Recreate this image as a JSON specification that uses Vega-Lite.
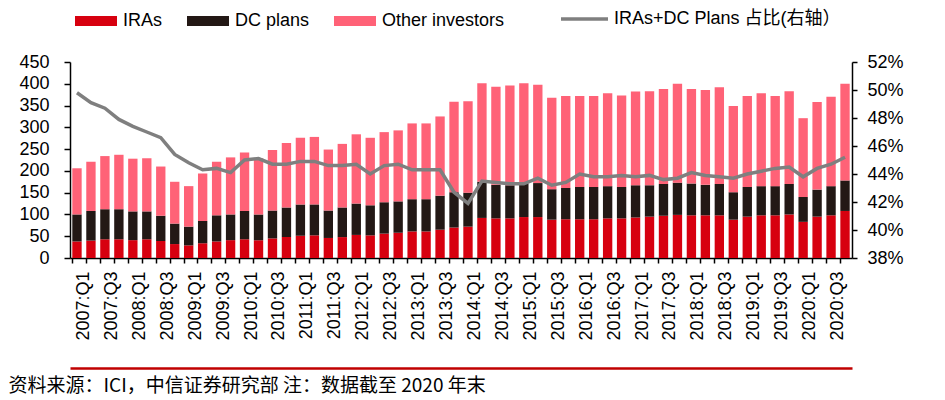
{
  "$schema": "https://vega.github.io/schema/vega-lite/v6.json",
  "width": 782,
  "height": 196,
  "autosize": "none",
  "padding": {"left": 70, "top": 62, "right": 93, "bottom": 142},
  "background": "white",
  "config": {
    "view": {"stroke": null},
    "font": "Liberation Sans",
    "axis": {"grid": false, "labelFont": "Liberation Sans", "labelColor": "black", "tickColor": "black", "domainColor": "black", "labelFontSize": 18, "domainWidth": 1.5, "tickWidth": 1.5}
  },
  "data": {
    "values": [
      {"q": "2007:Q1", "IRAs": 38, "DC plans": 62, "Other investors": 106, "share": 49.8},
      {"q": "2007:Q2", "IRAs": 40, "DC plans": 68, "Other investors": 113, "share": 49.1},
      {"q": "2007:Q3", "IRAs": 43, "DC plans": 69, "Other investors": 122, "share": 48.7},
      {"q": "2007:Q4", "IRAs": 43, "DC plans": 69, "Other investors": 125, "share": 47.9},
      {"q": "2008:Q1", "IRAs": 41, "DC plans": 66, "Other investors": 121, "share": 47.4},
      {"q": "2008:Q2", "IRAs": 43, "DC plans": 64, "Other investors": 122, "share": 47.0},
      {"q": "2008:Q3", "IRAs": 39, "DC plans": 58, "Other investors": 113, "share": 46.6},
      {"q": "2008:Q4", "IRAs": 32, "DC plans": 47, "Other investors": 96, "share": 45.4},
      {"q": "2009:Q1", "IRAs": 29, "DC plans": 43, "Other investors": 93, "share": 44.8},
      {"q": "2009:Q2", "IRAs": 34, "DC plans": 51, "Other investors": 109, "share": 44.3},
      {"q": "2009:Q3", "IRAs": 38, "DC plans": 60, "Other investors": 123, "share": 44.4},
      {"q": "2009:Q4", "IRAs": 41, "DC plans": 59, "Other investors": 131, "share": 44.1},
      {"q": "2010:Q1", "IRAs": 43, "DC plans": 65, "Other investors": 134, "share": 45.0},
      {"q": "2010:Q2", "IRAs": 41, "DC plans": 59, "Other investors": 129, "share": 45.1},
      {"q": "2010:Q3", "IRAs": 45, "DC plans": 64, "Other investors": 139, "share": 44.7},
      {"q": "2010:Q4", "IRAs": 48, "DC plans": 68, "Other investors": 148, "share": 44.7},
      {"q": "2011:Q1", "IRAs": 51, "DC plans": 72, "Other investors": 153, "share": 44.9},
      {"q": "2011:Q2", "IRAs": 52, "DC plans": 71, "Other investors": 155, "share": 44.9},
      {"q": "2011:Q3", "IRAs": 46, "DC plans": 63, "Other investors": 140, "share": 44.6},
      {"q": "2011:Q4", "IRAs": 48, "DC plans": 68, "Other investors": 146, "share": 44.6},
      {"q": "2012:Q1", "IRAs": 53, "DC plans": 72, "Other investors": 159, "share": 44.7},
      {"q": "2012:Q2", "IRAs": 52, "DC plans": 69, "Other investors": 155, "share": 44.0},
      {"q": "2012:Q3", "IRAs": 56, "DC plans": 72, "Other investors": 161, "share": 44.6},
      {"q": "2012:Q4", "IRAs": 58, "DC plans": 72, "Other investors": 163, "share": 44.7},
      {"q": "2013:Q1", "IRAs": 61, "DC plans": 74, "Other investors": 174, "share": 44.3},
      {"q": "2013:Q2", "IRAs": 61, "DC plans": 74, "Other investors": 174, "share": 44.3},
      {"q": "2013:Q3", "IRAs": 65, "DC plans": 78, "Other investors": 182, "share": 44.3},
      {"q": "2013:Q4", "IRAs": 70, "DC plans": 81, "Other investors": 208, "share": 42.7},
      {"q": "2014:Q1", "IRAs": 72, "DC plans": 78, "Other investors": 210, "share": 41.9},
      {"q": "2014:Q2", "IRAs": 92, "DC plans": 83, "Other investors": 226, "share": 43.5},
      {"q": "2014:Q3", "IRAs": 91, "DC plans": 77, "Other investors": 225, "share": 43.4},
      {"q": "2014:Q4", "IRAs": 91, "DC plans": 76, "Other investors": 229, "share": 43.3},
      {"q": "2015:Q1", "IRAs": 94, "DC plans": 77, "Other investors": 230, "share": 43.3},
      {"q": "2015:Q2", "IRAs": 94, "DC plans": 78, "Other investors": 226, "share": 43.7},
      {"q": "2015:Q3", "IRAs": 88, "DC plans": 70, "Other investors": 210, "share": 43.2},
      {"q": "2015:Q4", "IRAs": 89, "DC plans": 72, "Other investors": 211, "share": 43.4},
      {"q": "2016:Q1", "IRAs": 89, "DC plans": 74, "Other investors": 209, "share": 44.0},
      {"q": "2016:Q2", "IRAs": 89, "DC plans": 74, "Other investors": 209, "share": 43.8},
      {"q": "2016:Q3", "IRAs": 91, "DC plans": 74, "Other investors": 213, "share": 43.8},
      {"q": "2016:Q4", "IRAs": 91, "DC plans": 72, "Other investors": 210, "share": 43.9},
      {"q": "2017:Q1", "IRAs": 93, "DC plans": 74, "Other investors": 215, "share": 43.8},
      {"q": "2017:Q2", "IRAs": 95, "DC plans": 72, "Other investors": 216, "share": 43.9},
      {"q": "2017:Q3", "IRAs": 97, "DC plans": 73, "Other investors": 218, "share": 43.6},
      {"q": "2017:Q4", "IRAs": 99, "DC plans": 74, "Other investors": 227, "share": 43.7},
      {"q": "2018:Q1", "IRAs": 98, "DC plans": 73, "Other investors": 217, "share": 44.1},
      {"q": "2018:Q2", "IRAs": 98, "DC plans": 70, "Other investors": 218, "share": 43.9},
      {"q": "2018:Q3", "IRAs": 98, "DC plans": 72, "Other investors": 222, "share": 43.8},
      {"q": "2018:Q4", "IRAs": 88, "DC plans": 63, "Other investors": 198, "share": 43.7},
      {"q": "2019:Q1", "IRAs": 95, "DC plans": 68, "Other investors": 209, "share": 44.0},
      {"q": "2019:Q2", "IRAs": 98, "DC plans": 67, "Other investors": 213, "share": 44.2},
      {"q": "2019:Q3", "IRAs": 98, "DC plans": 67, "Other investors": 207, "share": 44.4},
      {"q": "2019:Q4", "IRAs": 100, "DC plans": 70, "Other investors": 213, "share": 44.5},
      {"q": "2020:Q1", "IRAs": 83, "DC plans": 57, "Other investors": 181, "share": 43.8},
      {"q": "2020:Q2", "IRAs": 95, "DC plans": 62, "Other investors": 201, "share": 44.4},
      {"q": "2020:Q3", "IRAs": 98, "DC plans": 67, "Other investors": 205, "share": 44.7},
      {"q": "2020:Q4", "IRAs": 108, "DC plans": 70, "Other investors": 222, "share": 45.2}
    ]
  },
  "layer": [
    {
      "transform": [
        {"fold": ["IRAs", "DC plans", "Other investors"], "as": ["type", "value"]},
        {"lookup": "type", "from": {"data": {"values": [{"type": "IRAs", "k": 1}, {"type": "DC plans", "k": 2}, {"type": "Other investors", "k": 3}]}, "key": "type", "fields": ["k"]}}
      ],
      "mark": {"type": "bar"},
      "encoding": {
        "x": {
          "field": "q", "type": "ordinal", "sort": null,
          "scale": {"paddingInner": 0.33, "paddingOuter": 0.165},
          "axis": {
            "title": null, "labelAngle": -90, "labelAlign": "right", "labelBaseline": "middle",
            "labelPadding": 8, "tickSize": 5, "labelOverlap": false, "bandPosition": 0, "labelOffset": 7,
            "labelExpr": "(indexof(datum.value,'Q1')>=0 || indexof(datum.value,'Q3')>=0) ? datum.value : ''"
          }
        },
        "y": {
          "field": "value", "type": "quantitative", "stack": "zero",
          "scale": {"domain": [0, 450], "nice": false},
          "axis": {"title": null, "values": [0, 50, 100, 150, 200, 250, 300, 350, 400, 450], "tickSize": 6, "labelPadding": 15}
        },
        "order": {"field": "k", "type": "quantitative", "sort": "ascending"},
        "color": {
          "field": "type", "type": "nominal",
          "scale": {"domain": ["IRAs", "DC plans", "Other investors"], "range": ["#D7000F", "#231815", "#FF6277"]},
          "legend": {
            "orient": "none", "legendX": 0, "legendY": -67, "direction": "horizontal", "title": null,
            "symbolType": "stroke", "symbolSize": 1764, "symbolStrokeWidth": 10,
            "labelFontSize": 18, "labelOffset": 1, "columnPadding": 4,
            "labelColor": "black", "labelFont": "Liberation Sans",
            "encode": {"symbols": {"update": {"stroke": {"scale": "color", "field": "value"}, "strokeCap": {"value": "butt"}}}}
          }
        }
      }
    },
    {
      "mark": {"type": "line", "strokeWidth": 3.5},
      "encoding": {
        "x": {
          "field": "q", "type": "ordinal", "sort": null,
          "scale": {"paddingInner": 0.33, "paddingOuter": 0.165},
          "axis": {
            "orient": "bottom", "offset": 110, "labels": false, "ticks": false,
            "domainColor": "#C00000", "domainWidth": 2.5,
            "title": "资料来源：ICI，中信证券研究部 注：数据截至 2020 年末",
            "titleFont": "Noto Sans CJK SC", "titleFontSize": 19, "titleFontWeight": "normal",
            "titleColor": "black", "titleAnchor": "start", "titleAlign": "left",
            "titleX": -62, "titleY": 17, "titleBaseline": "middle"
          }
        },
        "y": {
          "field": "share", "type": "quantitative",
          "scale": {"domain": [38, 52], "nice": false, "zero": false},
          "axis": {"orient": "right", "title": null, "values": [38, 40, 42, 44, 46, 48, 50, 52], "labelExpr": "datum.value + '%'", "tickSize": 5, "labelPadding": 10}
        },
        "stroke": {
          "datum": "IRAs+DC Plans 占比(右轴）",
          "scale": {"range": ["#7F7F7F"]},
          "legend": {
            "orient": "none", "legendX": 489, "legendY": -68.5, "title": null,
            "symbolType": "stroke", "symbolSize": 2209, "symbolStrokeWidth": 3.5,
            "labelFontSize": 18, "labelOffset": 4, "labelLimit": 400,
            "labelColor": "black", "labelFont": "Liberation Sans, Noto Sans CJK SC"
          }
        }
      }
    }
  ],
  "resolve": {"scale": {"x": "independent", "y": "independent"}, "axis": {"x": "independent"}}
}
